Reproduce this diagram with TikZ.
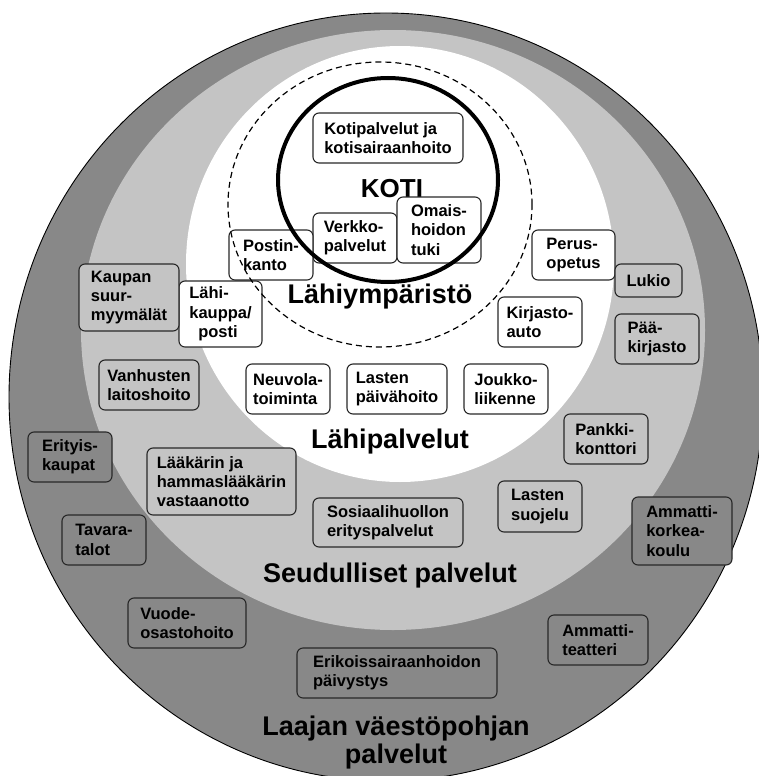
\documentclass[tikz,border=0pt]{standalone}
\usepackage{fontspec}
\setmainfont{Liberation Sans}
\definecolor{bandD}{RGB}{136,136,136}
\definecolor{bandL}{RGB}{196,196,196}
\definecolor{edgec}{RGB}{40,40,40}
\tikzset{
  svc/.style={draw=edgec, line width=1.1pt, rounded corners=6pt, align=left, inner sep=0pt,
    font=\fontsize{16.5}{19.3}\selectfont\bfseries, text=black},
  wsvc/.style={svc, fill=white},
  lsvc/.style={svc, fill=bandL},
  dsvc/.style={svc, fill=bandD},
  sz/.style 2 args={minimum width=#1pt, minimum height=#2pt},
  big/.style={font=\fontsize{27}{29}\selectfont\bfseries, inner sep=0pt, anchor=base, text=black}
}
\begin{document}
\begin{tikzpicture}[x=1pt,y=-1pt]
\useasboundingbox (0,0) rectangle (759,776);
\fill[white] (0,0) rectangle (759,776);
\clip (0,0) rectangle (759,776);
% bands
\fill[bandD] (386,397) ellipse [x radius=377pt, y radius=384pt];
\draw[black, line width=0.9pt] (386,397) ellipse [x radius=377pt, y radius=384pt];
\fill[bandL] (393,330) ellipse [x radius=312pt, y radius=300pt];
\fill[white] (400,264) ellipse [x radius=214pt, y radius=218pt];
% big labels
\node[big, font=\fontsize{26}{28}\selectfont\bfseries] (koti) at (392,197) {KOTI};
\node[big] (lahiymp) at (380,303) {Lähiympäristö};
\node[big] (lahipal) at (390,448) {Lähipalvelut};
\node[big] (seud) at (390,582) {Seudulliset palvelut};
\node[big] (laajan) at (396,735) {Laajan väestöpohjan};
\node[big] (laajan2) at (396,763) {palvelut};
% white boxes
\node[wsvc, sz={150}{50}] (kotipal) at (388,138) {Kotipalvelut ja\\kotisairaanhoito};
\node[wsvc, sz={84}{50}] (verkko) at (355,238) {Verkko-\\palvelut};
\node[wsvc, sz={84}{66}] (omais) at (439,230) {Omais-\\hoidon\\tuki};
\node[wsvc, sz={84}{50}] (postin) at (271,255) {Postin-\\kanto};
\node[wsvc, sz={83}{66}] (lahikauppa) at (220.5,314) {Lähi-\\kauppa/\\\hspace*{9pt}posti};
\node[wsvc, sz={83}{50}] (perus) at (573.5,255) {Perus-\\opetus};
\node[wsvc, sz={84}{50}] (kirjauto) at (540,322) {Kirjasto-\\auto};
\node[wsvc, sz={84}{50}] (neuvola) at (288,389) {Neuvola-\\toiminta};
\node[wsvc, sz={100}{50}] (paivahoito) at (397,389) {Lasten\\päivähoito};
\node[wsvc, sz={84}{50}] (joukko) at (506,389) {Joukko-\\liikenne};
% light boxes
\node[lsvc, sz={100}{67}] (kaupan) at (129,297.5) {Kaupan\\suur-\\myymälät};
\node[lsvc, sz={100}{50}] (vanhusten) at (149,385) {Vanhusten\\laitoshoito};
\node[lsvc, sz={149}{67}] (laakarin) at (221.5,481.5) {Lääkärin ja\\hammaslääkärin\\vastaanotto};
\node[lsvc, sz={150}{49}] (sosiaali) at (388,522.5) {Sosiaalihuollon\\erityspalvelut};
\node[lsvc, sz={67}{33}] (lukio) at (648.5,280.5) {Lukio};
\node[lsvc, sz={84}{50}] (paakirj) at (657,339) {Pää-\\kirjasto};
\node[lsvc, sz={84}{50}] (pankki) at (606,439) {Pankki-\\konttori};
\node[lsvc, sz={84}{51}] (suojelu) at (540,506.5) {Lasten\\suojelu};
% dark boxes
\node[dsvc, sz={84}{50}] (erityis) at (70,457) {Erityis-\\kaupat};
\node[dsvc, sz={84}{50}] (tavara) at (104,540) {Tavara-\\talot};
\node[dsvc, sz={118}{50}] (vuode) at (187,623) {Vuode-\\osastohoito};
\node[dsvc, sz={200}{50}] (erikois) at (397,673) {Erikoissairaanhoidon\\päivystys};
\node[dsvc, sz={100}{50}] (teatteri) at (598,640) {Ammatti-\\teatteri};
\node[dsvc, sz={100}{68}] (amk) at (682,531) {Ammatti-\\korkea-\\koulu};
% circle lines on top
\draw[black, line width=1.2pt, dash pattern=on 6pt off 4pt] (380,204.5) ellipse [x radius=152pt, y radius=142.5pt];
\draw[black, line width=4pt] (388,180) ellipse [x radius=110pt, y radius=102pt];
\end{tikzpicture}
\end{document}
